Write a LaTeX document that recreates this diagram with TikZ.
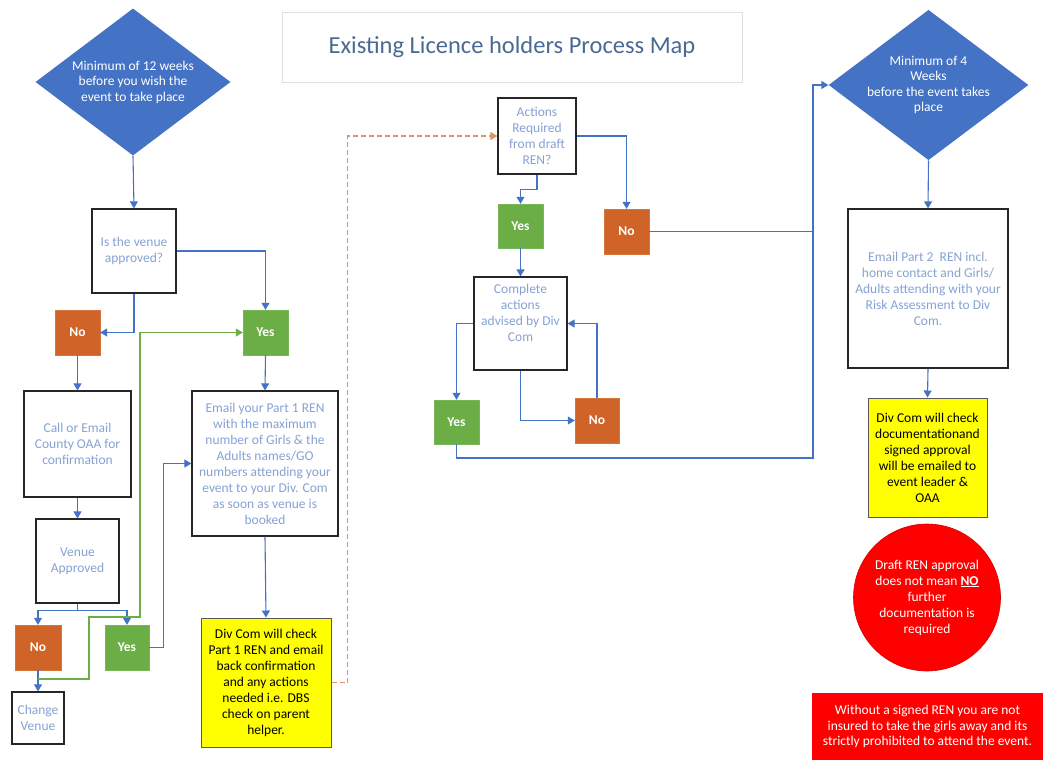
\documentclass[tikz,border=0pt]{standalone}
\usepackage{fontspec}
\setmainfont{Carlito}
\usetikzlibrary{shapes.geometric,arrows.meta,calc}
\definecolor{cblue}{HTML}{4472C4}
\definecolor{txtblue}{HTML}{86A2D4}
\definecolor{titleblue}{HTML}{4A6A93}
\definecolor{corange}{HTML}{D06428}
\definecolor{cgreen}{HTML}{6AAE45}
\definecolor{cyellow}{HTML}{FFFF00}
\definecolor{cred}{HTML}{FF0000}
\begin{document}
\begin{tikzpicture}[x=1pt,y=-1pt,
  conn/.style={draw=cblue, line width=1.1pt, -{Triangle[width=8pt,length=7pt]}},
  plainline/.style={draw=cblue, line width=1.1pt},
  gconn/.style={draw=cgreen, line width=1.1pt, -{Triangle[width=8pt,length=7pt]}},
  oconn/.style={draw=corange!70, line width=1.1pt, dash pattern=on 5pt off 3pt, -{Triangle[width=8pt,length=7pt]}},
  txt/.style={font=\fontsize{13.5}{16}\selectfont, align=center},
  wbox/.style={txt, draw=black!85, line width=1.2pt, fill=white, text=txtblue, inner sep=2pt},
  sq/.style={font=\fontsize{13.5}{16}\selectfont\bfseries, text=white, minimum width=45pt, minimum height=45pt, inner sep=0pt},
  nobox/.style={sq, fill=corange, draw=corange!90!white},
  yesbox/.style={sq, fill=cgreen, draw=cgreen!90!white},
  ybox/.style={txt, fill=cyellow, draw=black!65, line width=1pt, text=black, inner sep=2pt},
  dmd/.style={shape=diamond, aspect=1.33, fill=cblue, inner sep=0pt, text=white, align=center, font=\fontsize{13.5}{15.5}\selectfont}
]
\useasboundingbox (0,0) rectangle (1043,760);

% title
\node[draw=black!12, line width=0.8pt, minimum width=460pt, minimum height=70pt, text=titleblue, font=\fontsize{24.5}{28}\selectfont] (title) at (512,47) {Existing Licence holders Process Map};

% left column
\node[dmd, minimum width=195pt, minimum height=147pt] (d1) at (133,82) {Minimum of 12 weeks\\before you wish the\\event to take place};
\node[wbox, minimum width=84pt, minimum height=84pt] (venue) at (134,251) {Is the venue\\approved?};
\node[yesbox] (yes1) at (265.5,332.5) {Yes};
\node[nobox] (no1) at (77.5,332.5) {No};
\node[wbox, minimum width=107pt, minimum height=106pt] (call) at (77.5,444) {Call or Email\\County OAA for\\confirmation};
\node[wbox, minimum width=83pt, minimum height=84pt] (vapp) at (77.5,561) {Venue\\Approved};
\node[nobox, minimum width=46pt] (no2) at (38,647.5) {No};
\node[yesbox, minimum width=44pt] (yes2) at (127,647.5) {Yes};
\node[wbox, minimum width=52pt, minimum height=52pt, inner sep=1pt] (change) at (38,718) {Change\\Venue};
\node[wbox, minimum width=146pt, minimum height=145pt] (email) at (265,463.5) {Email your Part 1 REN\\with the maximum\\number of Girls \& the\\Adults names/GO\\numbers attending your\\event to your Div. Com\\as soon as venue is\\booked};
\node[ybox, minimum width=130pt, minimum height=129pt] (yel1) at (266,682.5) {Div Com will check\\Part 1 REN and email\\back confirmation\\and any actions\\needed i.e. DBS\\check on parent\\helper.};

% middle column
\node[wbox, minimum width=78pt, minimum height=76pt] (act) at (537,136) {Actions\\Required\\from draft\\REN?};
\node[yesbox, minimum height=44pt] (yes3) at (520.5,226) {Yes};
\node[nobox] (no3) at (626.5,231.5) {No};
\node[wbox, minimum width=93pt, minimum height=93pt] (comp) at (520.5,323.5) {Complete\\actions\\advised by Div\\Com\\[6pt]};
\node[yesbox, minimum height=44pt] (yes4) at (456.5,422) {Yes};
\node[nobox, minimum width=44pt] (no4) at (597,420.5) {No};

% right column
\node[dmd, minimum width=197pt, minimum height=145pt] (d2) at (928.5,85) {Minimum of 4\\Weeks\\before the event takes\\place};
\node[wbox, minimum width=160pt, minimum height=159pt] (part2) at (928,288.5) {Email Part 2\ \ REN incl.\\home contact and Girls/\\Adults attending with your\\Risk Assessment to Div\\Com.};
\node[ybox, minimum width=119pt, minimum height=119pt] (yel2) at (927.5,457.5) {Div Com will check\\documentationand\\signed approval\\will be emailed to\\event leader \&\\OAA};
\node[shape=circle, fill=cred, draw=cred!85!black, line width=0.6pt, minimum size=147pt, inner sep=0pt, txt, text=white] (circ) at (927,597.5) {Draft REN approval\\does not mean \textbf{\underline{NO}}\\further\\documentation is\\required};
\node[fill=cred, minimum width=231pt, minimum height=67pt, inner sep=0pt, text=white, align=center, font=\fontsize{13.5}{15.5}\selectfont] (warn) at (927.5,726.5) {Without a signed REN you are not\\insured to take the girls away and its\\strictly prohibited to attend the event.};

% connectors
\coordinate (g0) at (38,679);
\coordinate (jx) at (813,458);

\draw[conn] (d1.south) -- (venue.north);
\draw[conn] (venue.east) -| (yes1.north);
\draw[conn] (venue.south) |- (no1.east);
\draw[conn] (no1.south) -- (call.north);
\draw[conn] (yes1.south) -- (email.north);
\draw[conn] (call.south) -- (vapp.north);
\draw[plainline] (vapp.south) -- ++(0,7) coordinate (vb);
\draw[conn] (vb) -| (no2.north);
\draw[conn] (vb) -| (yes2.north);
\draw[conn] (no2.south) -- (change.north);
\draw[gconn] (g0) -- ++(51,0) -- ++(0,-62) -- ++(51,0) |- (yes1.west);
\draw[conn] (yes2.east) -- ++(14,0) |- (email.west);
\draw[conn] (email.south) -- (yel1.north);
\draw[oconn] (yel1.east) -- ++(16,0) |- (act.west);

\draw[conn] (act.south) -- ++(0,15) -| (yes3.north);
\draw[conn] (act.east) -| (no3.north);
\draw[plainline] (no3.east) -- (no3.east -| jx);
\draw[conn] (yes3.south) -- (comp.north);
\draw[conn] (comp.west) -| (yes4.north);
\draw[conn] (comp.south) |- (no4.west);
\draw[conn] (no4.north) |- (comp.east);
\draw[conn] (yes4.south) |- (jx) |- (d2.west);

\draw[conn] (d2.south) -- (part2.north);
\draw[conn] (part2.south) -- (yel2.north);
\end{tikzpicture}
\end{document}
